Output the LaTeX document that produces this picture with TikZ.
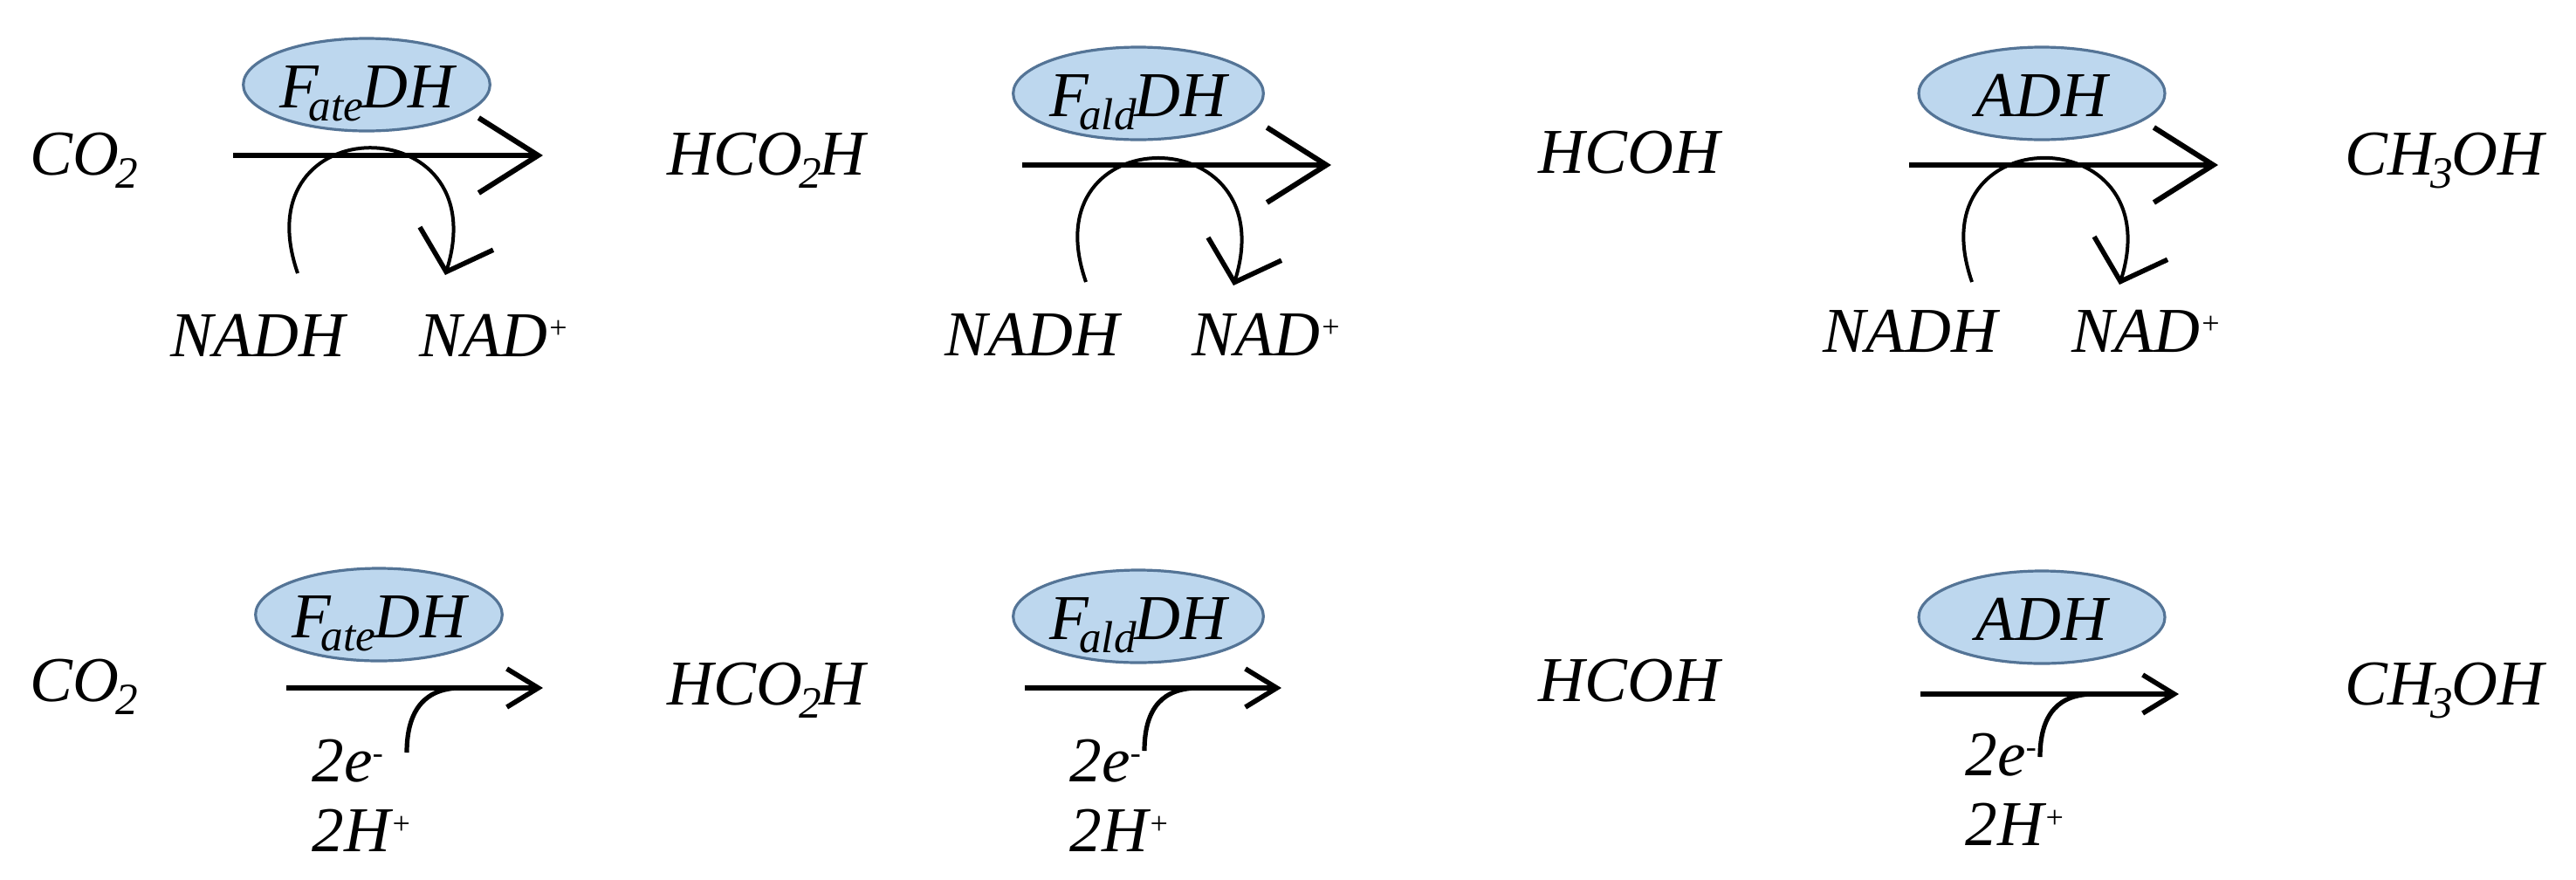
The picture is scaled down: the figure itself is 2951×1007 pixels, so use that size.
\documentclass[tikz,border=0pt]{standalone}
\usepackage{fontspec}
\setmainfont{Liberation Serif}
\usetikzlibrary{arrows.meta, positioning, shapes.geometric}

\definecolor{enzfill}{RGB}{189,215,238}
\definecolor{enzline}{RGB}{84,116,150}
\newcommand{\lowsub}[1]{\kern-1pt\textsubscript{\raisebox{-1.2pt}{#1}}\kern-1pt}
\newcommand{\enzsub}[1]{\kern-2.8pt\textsubscript{\raisebox{-1.2pt}{#1}}\kern-1pt}
\newcommand{\chargeup}[1]{\raisebox{5.2pt}{\fontsize{9}{10}\selectfont #1}}

\begin{document}
\begin{tikzpicture}[
  x=0.25pt, y=-0.25pt,
  species/.style={inner sep=0pt, font=\fontsize{18.3}{22}\selectfont\itshape},
  enzyme/.style={ellipse, draw=enzline, fill=enzfill, line width=0.8pt,
                 minimum width=70.5pt, minimum height=26.5pt, inner sep=0pt,
                 text height=13pt, text depth=0pt,
                 font=\fontsize{18.3}{22}\selectfont\itshape},
  bigflow/.style={-{Straight Barb[length=17pt, width=21.5pt, line width=1.5pt]}, line width=1.6pt},
  smallflow/.style={-{Straight Barb[length=9pt, width=11pt, line width=1.4pt]}, line width=1.5pt},
  cycle/.style={-{Straight Barb[length=10pt, width=22pt, line width=1.4pt]}, line width=1pt},
  feed/.style={line width=1.3pt}
]
\useasboundingbox (0,0) rectangle (2951,1007);

% Upper row, with cofactor cycles
\node[species, anchor=base west] (co2a) at (34,200) {CO\lowsub{2}};
\node[species, anchor=base west] (acida) at (764,200) {HCO\lowsub{2}H};
\node[species, anchor=base west] (alda) at (1762,198) {HCOH};
\node[species, anchor=base west] (meoha) at (2686,200) {CH\lowsub{3}OH};

\node[enzyme] (fatea) at (420,97) {F\enzsub{ate}DH};
\node[enzyme] (falda) at (1304,107) {F\enzsub{ald}DH};
\node[enzyme] (adha) at (2339,107) {ADH};

\coordinate (r1s) at (267,178);
\coordinate (r1e) at (622,178);
\coordinate (r2s) at (1171,189);
\coordinate (r2e) at (1525,189);
\coordinate (r3s) at (2187,189);
\coordinate (r3e) at (2541,189);
\draw[bigflow] (r1s) -- (r1e);
\draw[bigflow] (r2s) -- (r2e);
\draw[bigflow] (r3s) -- (r3e);

\node[species, anchor=base west] (nadha) at (195,408) {NADH};
\node[species, base right=21pt of nadha] (nada) {NAD\chargeup{+}};
\node[species, anchor=base west] (nadhb) at (1082,407) {NADH};
\node[species, base right=20.5pt of nadhb] (nadb) {NAD\chargeup{+}};
\node[species, anchor=base west] (nadhc) at (2088,403) {NADH};
\node[species, base right=21pt of nadhc] (nadc) {NAD\chargeup{+}};

% Cofactor cycles
\coordinate (c1s) at (341,313);
\coordinate (c1e) at (510,315);
\coordinate (c2s) at (1244,323);
\coordinate (c2e) at (1413,327);
\coordinate (c3s) at (2259,323);
\coordinate (c3e) at (2428,326);
\draw[cycle] (c1s) .. controls +(-66,-191) and +(60,-193) .. (c1e);
\draw[cycle] (c2s) .. controls +(-66,-189) and +(60,-193) .. (c2e);
\draw[cycle] (c3s) .. controls +(-66,-189) and +(60,-192) .. (c3e);

% Lower row, with electrons and protons
\node[species, anchor=base west] (co2b) at (34,803) {CO\lowsub{2}};
\node[species, anchor=base west] (acidb) at (764,807) {HCO\lowsub{2}H};
\node[species, anchor=base west] (aldb) at (1762,803) {HCOH};
\node[species, anchor=base west] (meohb) at (2686,807) {CH\lowsub{3}OH};

\node[enzyme] (fateb) at (434,704) {F\enzsub{ate}DH};
\node[enzyme] (faldb) at (1304,706) {F\enzsub{ald}DH};
\node[enzyme] (adhb) at (2339,707) {ADH};

\coordinate (r4s) at (328,788);
\coordinate (r4e) at (622,788);
\coordinate (r5s) at (1174,788);
\coordinate (r5e) at (1468,788);
\coordinate (r6s) at (2200,795);
\coordinate (r6e) at (2496,795);
\draw[smallflow] (r4s) -- (r4e);
\draw[smallflow] (r5s) -- (r5e);
\draw[smallflow] (r6s) -- (r6e);

\node[species, anchor=base west] (ea) at (357,895) {2e\chargeup{-}};
\node[species, below=7.5pt of ea.south west, anchor=north west] (ha) {2H\chargeup{+}};
\node[species, anchor=base west] (eb) at (1225,895) {2e\chargeup{-}};
\node[species, below=7.5pt of eb.south west, anchor=north west] (hb) {2H\chargeup{+}};
\node[species, anchor=base west] (ec) at (2251,888) {2e\chargeup{-}};
\node[species, below=7.5pt of ec.south west, anchor=north west] (hc) {2H\chargeup{+}};

% Electron feeds
\coordinate (f1s) at (466,862);
\coordinate (f1e) at (528,788);
\coordinate (f2s) at (1311,860);
\coordinate (f2e) at (1373,788);
\coordinate (f3s) at (2337,867);
\coordinate (f3e) at (2399,795);
\draw[feed] (f1s) .. controls +(0,-50) and +(-40,0) .. (f1e);
\draw[feed] (f2s) .. controls +(0,-50) and +(-40,0) .. (f2e);
\draw[feed] (f3s) .. controls +(0,-50) and +(-40,0) .. (f3e);
\end{tikzpicture}
\end{document}
